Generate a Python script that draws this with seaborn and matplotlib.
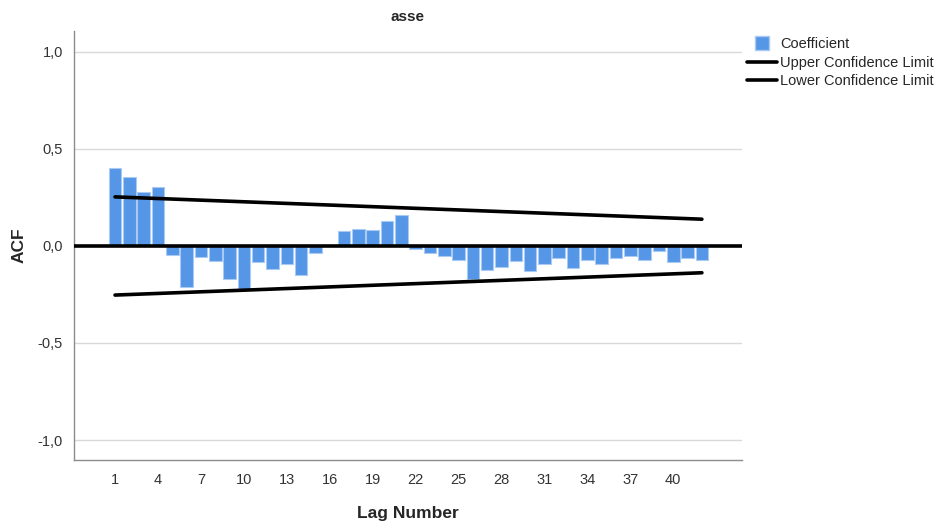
import matplotlib
matplotlib.use("Agg")
import matplotlib.pyplot as plt
import seaborn as sns
import pandas as pd
from matplotlib.lines import Line2D

# Autocorrelation coefficients by lag
lags = list(range(1, 43))
acf = [0.404, 0.357, 0.277, 0.306, -0.046, -0.210, -0.058, -0.076, -0.168, -0.225,
       -0.082, -0.120, -0.091, -0.150, -0.038, 0.003, 0.077, 0.088, 0.084, 0.127,
       0.158, -0.018, -0.034, -0.050, -0.074, -0.171, -0.125, -0.106, -0.080, -0.130,
       -0.092, -0.060, -0.116, -0.073, -0.094, -0.063, -0.050, -0.070, -0.027, -0.083,
       -0.060, -0.070]

# Confidence limits at the first and last lag
conf_lags = [1, 42]
upper_limit = [0.253, 0.138]
lower_limit = [-0.253, -0.138]

xtick_values = [1, 4, 7, 10, 13, 16, 19, 22, 25, 28, 31, 34, 37, 40]
ytick_values = [-1.0, -0.5, 0.0, 0.5, 1.0]
ytick_labels = ["-1,0", "-0,5", "0,0", "0,5", "1,0"]

title = "asse"
bar_color = "#5596e6"

sns.set_style("white")
plt.rcParams["font.family"] = ["Liberation Sans", "DejaVu Sans"]

fig = plt.figure(figsize=(9.41, 5.25), dpi=100)
ax = fig.add_axes([0.0786, 0.1238, 0.7099, 0.8172])

df = pd.DataFrame({"lag": lags, "acf": acf})
sns.barplot(data=df, x="lag", y="acf", native_scale=True, width=0.88,
            color=bar_color, saturation=1, edgecolor="#a9cbf3", linewidth=0.8,
            ax=ax, zorder=2)

conf = pd.DataFrame({"lag": conf_lags, "upper": upper_limit, "lower": lower_limit})
sns.lineplot(data=conf, x="lag", y="upper", color="black", linewidth=2.6, ax=ax, zorder=3)
sns.lineplot(data=conf, x="lag", y="lower", color="black", linewidth=2.6, ax=ax, zorder=3)

ax.axhline(0, color="black", linewidth=2.6, zorder=3)
for yv in [-1.0, -0.5, 0.5, 1.0]:
    ax.axhline(yv, color="#d9d9d9", linewidth=1.0, zorder=0)

ax.set_xlim(-1.87, 44.8)
ax.set_ylim(-1.103, 1.108)
ax.set_xticks(xtick_values)
ax.set_xticklabels([str(v) for v in xtick_values])
ax.set_yticks(ytick_values)
ax.set_yticklabels(ytick_labels)
ax.tick_params(axis="both", length=0, labelsize=10.5, colors="#333333")
ax.tick_params(axis="x", pad=9)
ax.tick_params(axis="y", pad=8)

for side in ["top", "right"]:
    ax.spines[side].set_visible(False)
for side in ["left", "bottom"]:
    ax.spines[side].set_color("#8c8c8c")
    ax.spines[side].set_linewidth(1.0)

ax.set_xlabel("Lag Number", fontsize=12.5, fontweight="bold", labelpad=14)
ax.set_ylabel("ACF", fontsize=12.5, fontweight="bold", labelpad=8)
ax.set_title(title, fontsize=11, fontweight="bold", pad=7)

handles = [
    Line2D([0], [0], marker="s", linestyle="none", markersize=10,
           markerfacecolor=bar_color, markeredgecolor="#a9cbf3", label="Coefficient"),
    Line2D([0], [0], color="black", linewidth=2.6, label="Upper Confidence Limit"),
    Line2D([0], [0], color="black", linewidth=2.6, label="Lower Confidence Limit"),
]
fig.legend(handles=handles, loc="upper left", bbox_to_anchor=(0.788, 0.94),
           frameon=False, fontsize=10.5, handlelength=2.0, handletextpad=0.25,
           labelspacing=0.3, borderaxespad=0)

fig.savefig("out.png", dpi=100)
